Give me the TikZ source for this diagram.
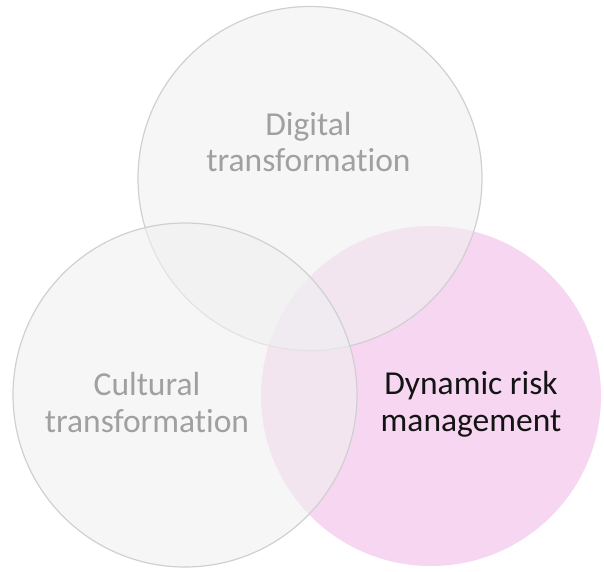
\documentclass[tikz,border=0pt]{standalone}
\usepackage{fontspec}
\setmainfont{Carlito}[Ligatures=NoCommon]
\definecolor{pinkfill}{RGB}{246,214,240}
\definecolor{greyfill}{RGB}{240,240,240}
\definecolor{greyline}{RGB}{208,208,208}
\definecolor{textgrey}{RGB}{160,160,160}
\definecolor{textdark}{RGB}{20,20,20}
\tikzset{
  pinkcirc/.style={circle, inner sep=0pt, outer sep=0pt, fill=pinkfill, minimum size=340pt},
  greycirc/.style={circle, inner sep=0pt, outer sep=0pt, fill=greyfill, fill opacity=0.6, draw=greyline, draw opacity=1, line width=1.2pt, minimum size=344pt},
  label/.style={align=center, inner sep=0pt, anchor=base, font=\fontsize{33.5}{36.5}\selectfont},
}
\begin{document}
\begin{tikzpicture}[x=1pt,y=-1pt]
\useasboundingbox[fill=white] (0,0) rectangle (604,571);
\node[pinkcirc] (risk) at (431,396) {};
\node[greycirc] (digital) at (310,178.5) {};
\node[greycirc] (cultural) at (185,395) {};
\node[label, text=textgrey] (tdigital) at (308.5,171.5) {Digital\\transformation};
\node[label, text=textgrey] (tcultural) at (147,432) {Cultural\\transformation};
\node[label, text=textdark] (trisk) at (471,431) {Dynamic risk\\management};
\end{tikzpicture}
\end{document}
